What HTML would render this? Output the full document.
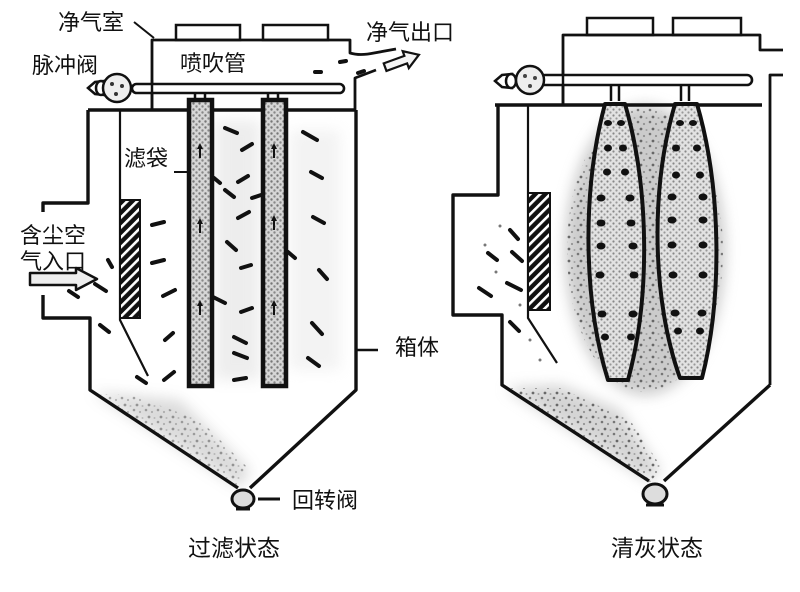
<!DOCTYPE html>
<html><head><meta charset="utf-8">
<style>
html,body{margin:0;padding:0;background:#fff;}
svg{display:block;}
text{font-family:"Liberation Sans","Noto Sans CJK SC",sans-serif;fill:#111;font-size:22px;}
</style></head><body>
<svg width="800" height="592" viewBox="0 0 800 592" xmlns="http://www.w3.org/2000/svg">
<defs>
 <pattern id="speck" width="12" height="12" patternUnits="userSpaceOnUse">
   <circle cx="2" cy="2" r="1.3" fill="#666"/>
   <circle cx="8" cy="4" r="1.1" fill="#888"/>
   <circle cx="5" cy="9" r="1.4" fill="#555"/>
   <circle cx="10.5" cy="10" r="1" fill="#999"/>
 </pattern>
 <pattern id="bagfill" width="6" height="6" patternUnits="userSpaceOnUse">
   <rect width="6" height="6" fill="#d6d6d6"/>
   <circle cx="1.5" cy="1.5" r="1.2" fill="#777"/>
   <circle cx="4.5" cy="4.5" r="1.2" fill="#888"/>
 </pattern>
 <pattern id="bagfill2" width="6" height="6" patternUnits="userSpaceOnUse">
   <rect width="6" height="6" fill="#e2e2e2"/>
   <circle cx="1.5" cy="1.5" r="1.1" fill="#888"/>
   <circle cx="4.5" cy="4.5" r="1.1" fill="#999"/>
 </pattern>
 <pattern id="hatch" width="7" height="7" patternUnits="userSpaceOnUse" patternTransform="rotate(-45)">
   <rect width="7" height="7" fill="#111"/>
   <rect x="0" y="0" width="7" height="2.6" fill="#fff"/>
 </pattern>
 <filter id="blur"><feGaussianBlur stdDeviation="7"/></filter>
</defs>

<!-- ================= LEFT DIAGRAM ================= -->
<g opacity="0.35" filter="url(#blur)">
  <path d="M92,392 L240,488 L250,470 L180,400 Z" fill="#999"/>
  <rect x="215" y="120" width="45" height="260" fill="#ccc"/>
  <rect x="290" y="130" width="50" height="240" fill="#ddd"/>
</g>
<g opacity="0.55">
  <path d="M95,394 L238,486 L248,468 L200,420 L130,395 Z" fill="url(#speck)"/>
</g>

<g fill="#fff" stroke="#111" stroke-width="2.5">
  <rect x="176" y="25" width="64" height="15"/>
  <rect x="263" y="25" width="65" height="15"/>
</g>
<g fill="none" stroke="#111" stroke-width="2.8" stroke-linejoin="round">
  <path d="M152,110 V40 H350 V53 Q360,56 374,53 L396,49"/>
  <path d="M355,110 V78 L376,70"/>
</g>
<g transform="translate(402,61) rotate(-20)" fill="#f4f4f4" stroke="#111" stroke-width="2.2">
  <path d="M-18,-4 H4 V-9 L18,0 L4,9 V4 H-18 Z"/>
</g>
<g stroke="#111" stroke-width="4" stroke-linecap="round">
  <line x1="315" y1="72" x2="321" y2="72"/>
  <line x1="340" y1="62" x2="346" y2="61"/>
  <line x1="358" y1="73" x2="364" y2="71"/>
</g>

<rect x="132" y="84" width="212" height="9" rx="4.5" fill="#fff" stroke="#111" stroke-width="2.6"/>
<line x1="152" y1="80" x2="152" y2="110" stroke="#111" stroke-width="2.5"/>
<g stroke="#111" stroke-width="2.5">
  <path d="M195,93 V101 M205,93 V101 M268,93 V101 M278,93 V101"/>
</g>
<g stroke="#111" stroke-width="2.5" fill="#fff">
  <path d="M88,88 L95,82 L104,81 L104,95 L95,94 Z"/>
  <ellipse cx="101" cy="88" rx="5" ry="7"/>
  <circle cx="117" cy="88" r="14" fill="#eee"/>
</g>
<g fill="#333"><circle cx="112" cy="84" r="2"/><circle cx="122" cy="86" r="2"/><circle cx="116" cy="94" r="2"/></g>

<g fill="none" stroke="#111" stroke-width="3.4" stroke-linejoin="round">
  <path d="M88,110 H355"/>
  <path d="M88,110 V203 H43 V212"/>
  <path d="M43,295 V318 H90 V390 L238,488"/>
  <path d="M356,110 V390 L250,488"/>
</g>
<path d="M120,110 V320 L148,376" fill="none" stroke="#111" stroke-width="2.2"/>
<rect x="120" y="200" width="20" height="118" fill="url(#hatch)" stroke="#111" stroke-width="2"/>

<g stroke="#111" stroke-width="4.5" fill="url(#bagfill)">
  <rect x="189" y="100" width="23" height="286"/>
  <rect x="263" y="100" width="23" height="286"/>
</g>
<g fill="#111">
  <path d="M200,143 l-3,6 h2 v9 h2 v-9 h2 z"/>
  <path d="M200,218 l-3,6 h2 v9 h2 v-9 h2 z"/>
  <path d="M200,300 l-3,6 h2 v9 h2 v-9 h2 z"/>
  <path d="M274,143 l-3,6 h2 v9 h2 v-9 h2 z"/>
  <path d="M274,215 l-3,6 h2 v9 h2 v-9 h2 z"/>
  <path d="M274,300 l-3,6 h2 v9 h2 v-9 h2 z"/>
</g>

<g stroke="#111" stroke-width="4" stroke-linecap="round">
  <line x1="152" y1="225" x2="164" y2="222"/>
  <line x1="152" y1="263" x2="164" y2="260"/>
  <line x1="163" y1="296" x2="175" y2="290"/>
  <line x1="165" y1="340" x2="173" y2="333"/>
  <line x1="164" y1="380" x2="174" y2="372"/>
  <line x1="137" y1="377" x2="146" y2="383"/>
  <line x1="100" y1="325" x2="109" y2="332"/>
  <line x1="108" y1="260" x2="112" y2="267"/>
  <line x1="69" y1="291" x2="78" y2="297"/>
  <line x1="95" y1="284" x2="106" y2="291"/>
  <line x1="213" y1="297" x2="225" y2="303"/>
  <line x1="241" y1="312" x2="252" y2="308"/>
  <line x1="234" y1="337" x2="246" y2="343"/>
  <line x1="234" y1="380" x2="246" y2="378"/>
  <line x1="234" y1="353" x2="247" y2="358"/>
  <line x1="225" y1="128" x2="237" y2="133"/>
  <line x1="242" y1="150" x2="252" y2="144"/>
  <line x1="238" y1="182" x2="248" y2="176"/>
  <line x1="225" y1="190" x2="234" y2="197"/>
  <line x1="252" y1="198" x2="261" y2="195"/>
  <line x1="238" y1="218" x2="249" y2="212"/>
  <line x1="227" y1="242" x2="236" y2="250"/>
  <line x1="241" y1="268" x2="251" y2="265"/>
  <line x1="214" y1="178" x2="220" y2="183"/>
  <line x1="303" y1="132" x2="317" y2="140"/>
  <line x1="311" y1="172" x2="322" y2="178"/>
  <line x1="313" y1="217" x2="324" y2="223"/>
  <line x1="319" y1="270" x2="327" y2="279"/>
  <line x1="312" y1="323" x2="322" y2="334"/>
  <line x1="308" y1="358" x2="319" y2="366"/>
  <line x1="288" y1="252" x2="295" y2="258"/>
</g>

<path d="M30,273 H76 V268 L97,279 L76,290 V285 H30 Z" fill="#eee" stroke="#111" stroke-width="2.5" stroke-linejoin="round"/>

<g stroke="#111" stroke-width="3">
  <ellipse cx="243" cy="499" rx="11" ry="9" fill="#ddd"/>
  <path d="M236,509 H250"/>
  <path d="M258,499 H280"/>
</g>

<g stroke="#111" stroke-width="2" fill="none">
  <path d="M134,22 L154,38"/>
  <path d="M174,172 H189"/>
  <path d="M356,350 H378" stroke-width="2.5"/>
</g>

<text x="58" y="30">净气室</text>
<text x="32" y="73">脉冲阀</text>
<text x="180" y="71">喷吹管</text>
<text x="124" y="166">滤袋</text>
<text x="366" y="40">净气出口</text>
<text x="20" y="243">含尘空</text>
<text x="20" y="269">气入口</text>
<text x="395" y="355">箱体</text>
<text x="292" y="508">回转阀</text>
<text x="188" y="556" style="font-size:23px">过滤状态</text>

<!-- ================= RIGHT DIAGRAM ================= -->
<g opacity="0.5" filter="url(#blur)">
  <ellipse cx="645" cy="250" rx="80" ry="145" fill="#999"/>
  <path d="M505,388 L650,482 L660,470 L620,410 L560,385 Z" fill="#aaa"/>
</g>
<g opacity="0.85">
  <ellipse cx="645" cy="250" rx="78" ry="142" fill="url(#speck)"/>
  <path d="M505,388 L650,482 L662,468 L630,420 L560,388 Z" fill="url(#speck)"/>
</g>

<g fill="#fff" stroke="#111" stroke-width="2.5">
  <rect x="587" y="18" width="66" height="17"/>
  <rect x="673" y="18" width="68" height="17"/>
</g>
<g fill="none" stroke="#111" stroke-width="2.8" stroke-linejoin="round">
  <path d="M563,105 V35 H760 V50 H783"/>
  <path d="M770,385 V75 H783"/>
</g>
<rect x="540" y="75" width="212" height="10" rx="5" fill="#fff" stroke="#111" stroke-width="2.6"/>
<line x1="563" y1="70" x2="563" y2="105" stroke="#111" stroke-width="2.5"/>
<g stroke="#111" stroke-width="2.5">
  <path d="M611,85 V101 M619,85 V101 M681,85 V101 M689,85 V101"/>
</g>
<g stroke="#111" stroke-width="2.5" fill="#fff">
  <path d="M495,81 L502,75 L512,74 L512,88 L502,87 Z"/>
  <ellipse cx="511" cy="81" rx="5" ry="7"/>
  <circle cx="530" cy="80" r="14" fill="#eee"/>
</g>
<g fill="#444"><circle cx="525" cy="76" r="2"/><circle cx="535" cy="78" r="2"/><circle cx="530" cy="86" r="2"/></g>

<g fill="none" stroke="#111" stroke-width="3.4" stroke-linejoin="round">
  <path d="M495,105 H762"/>
  <path d="M498,105 V195 H453 V315 H502 V385 L649,481"/>
  <path d="M770,385 L664,481"/>
</g>
<path d="M528,105 V318 L557,363" fill="none" stroke="#111" stroke-width="2.2"/>
<rect x="528" y="193" width="22" height="117" fill="url(#hatch)" stroke="#111" stroke-width="2"/>

<g stroke="#111" stroke-width="4" fill="url(#bagfill2)" stroke-linejoin="round">
  <path d="M605,104 C582,190 583,300 608,380 L628,380 C650,300 650,190 625,104 Z"/>
  <path d="M675,104 C650,190 652,300 680,378 L702,378 C722,300 722,190 697,104 Z"/>
</g>
<g fill="#111">
  <ellipse cx="608" cy="123" rx="4" ry="3"/><ellipse cx="621" cy="123" rx="4" ry="3"/>
  <ellipse cx="608" cy="148" rx="4" ry="3.5"/><ellipse cx="623" cy="148" rx="4" ry="3.5"/>
  <ellipse cx="607" cy="172" rx="4" ry="3.5"/><ellipse cx="625" cy="172" rx="4" ry="3.5"/>
  <ellipse cx="601" cy="198" rx="4.5" ry="3.5"/><ellipse cx="630" cy="198" rx="4.5" ry="3.5"/>
  <ellipse cx="601" cy="223" rx="4.5" ry="3.5"/><ellipse cx="631" cy="223" rx="4.5" ry="3.5"/>
  <ellipse cx="601" cy="246" rx="4.5" ry="3.5"/><ellipse cx="633" cy="246" rx="4.5" ry="3.5"/>
  <ellipse cx="600" cy="275" rx="4.5" ry="3.5"/><ellipse cx="634" cy="275" rx="4.5" ry="3.5"/>
  <ellipse cx="602" cy="314" rx="4.5" ry="3.5"/><ellipse cx="633" cy="314" rx="4.5" ry="3.5"/>
  <ellipse cx="605" cy="337" rx="4" ry="3.5"/><ellipse cx="631" cy="337" rx="4" ry="3.5"/>

  <ellipse cx="680" cy="123" rx="4" ry="3"/><ellipse cx="693" cy="123" rx="4" ry="3"/>
  <ellipse cx="676" cy="148" rx="4" ry="3.5"/><ellipse cx="697" cy="148" rx="4" ry="3.5"/>
  <ellipse cx="676" cy="175" rx="4" ry="3.5"/><ellipse cx="700" cy="175" rx="4" ry="3.5"/>
  <ellipse cx="672" cy="197" rx="4.5" ry="3.5"/><ellipse cx="703" cy="197" rx="4.5" ry="3.5"/>
  <ellipse cx="672" cy="220" rx="4.5" ry="3.5"/><ellipse cx="703" cy="220" rx="4.5" ry="3.5"/>
  <ellipse cx="672" cy="245" rx="4.5" ry="3.5"/><ellipse cx="703" cy="245" rx="4.5" ry="3.5"/>
  <ellipse cx="673" cy="275" rx="4.5" ry="3.5"/><ellipse cx="703" cy="275" rx="4.5" ry="3.5"/>
  <ellipse cx="675" cy="313" rx="4.5" ry="3.5"/><ellipse cx="702" cy="313" rx="4.5" ry="3.5"/>
  <ellipse cx="678" cy="331" rx="4" ry="3.5"/><ellipse cx="700" cy="331" rx="4" ry="3.5"/>
</g>

<g stroke="#111" stroke-width="4" stroke-linecap="round">
  <line x1="510" y1="230" x2="518" y2="239"/>
  <line x1="488" y1="253" x2="497" y2="260"/>
  <line x1="512" y1="252" x2="522" y2="261"/>
  <line x1="479" y1="288" x2="491" y2="296"/>
  <line x1="507" y1="283" x2="521" y2="290"/>
  <line x1="510" y1="322" x2="519" y2="331"/>
</g>
<g fill="#777">
  <circle cx="500" cy="226" r="1.5"/><circle cx="485" cy="245" r="1.5"/><circle cx="496" cy="272" r="1.5"/>
  <circle cx="520" cy="305" r="1.5"/><circle cx="530" cy="340" r="1.5"/><circle cx="540" cy="360" r="1.5"/>
</g>

<g stroke="#111" stroke-width="3">
  <ellipse cx="655" cy="494" rx="12" ry="10" fill="#ddd"/>
  <path d="M646,505 H664"/>
</g>

<text x="611" y="556" style="font-size:23px">清灰状态</text>
</svg>
</body></html>
